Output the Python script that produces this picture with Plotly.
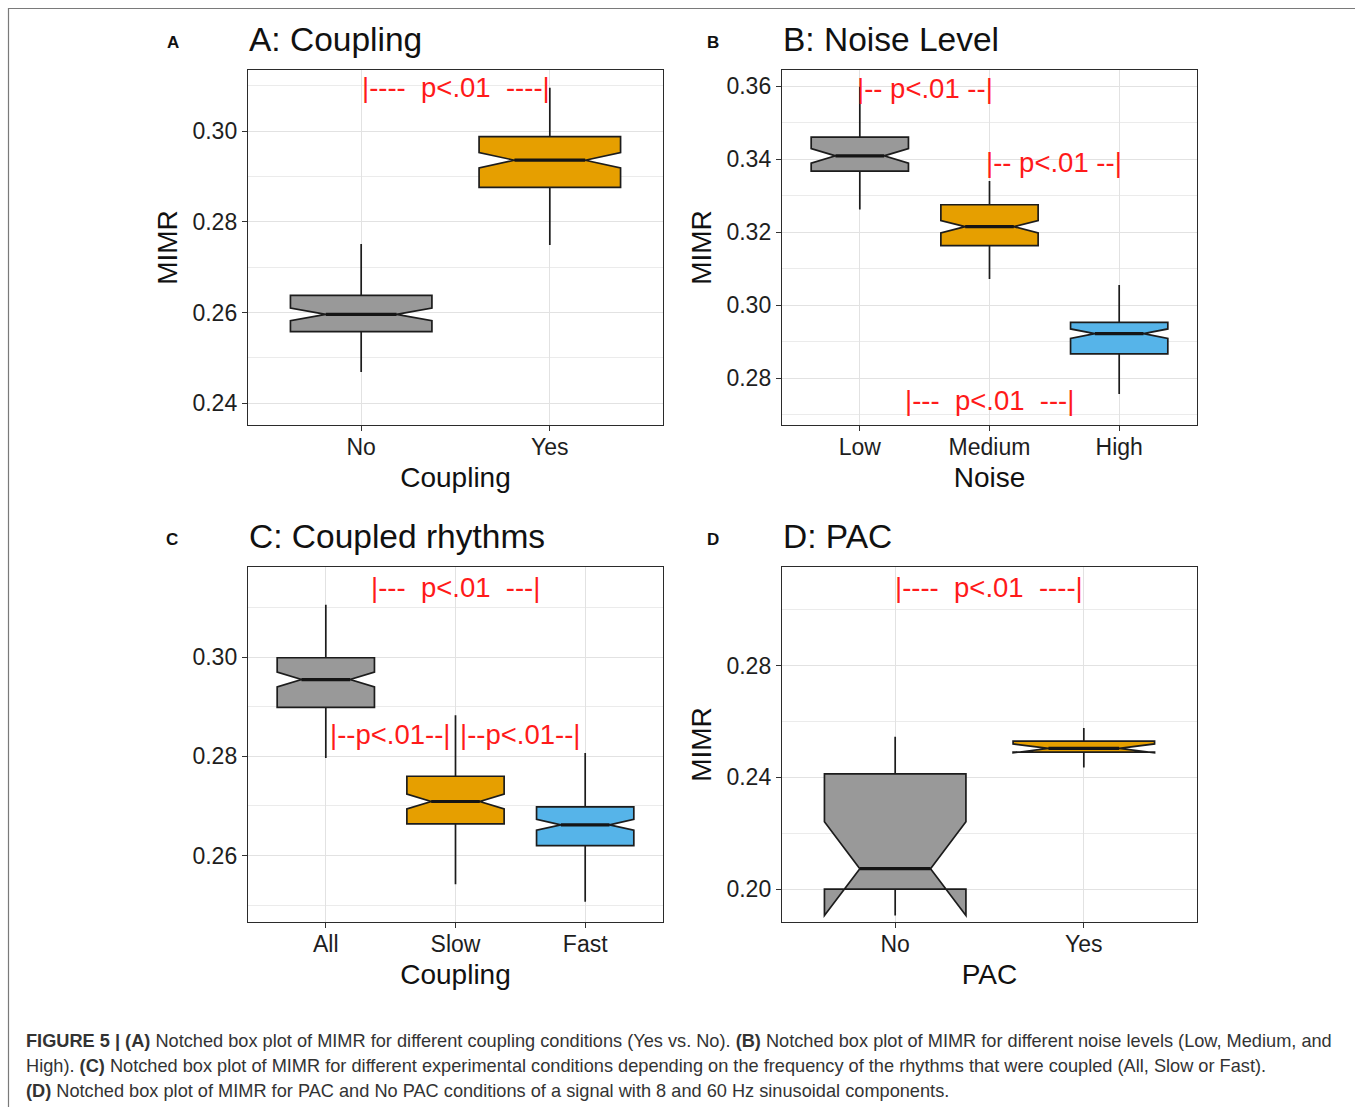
import plotly.graph_objects as go

# ---------------- data: notched box summaries (MIMR) ----------------
# Panel A: coupling present or not
a_cats = ["No", "Yes"]
a_lower = [0.2469, 0.2749]
a_q1 = [0.2558, 0.2876]
a_median = [0.2596, 0.2936]
a_q3 = [0.2638, 0.2988]
a_upper = [0.2751, 0.3096]
a_notch = [0.0014, 0.0017]

# Panel B: noise level
b_cats = ["Low", "Medium", "High"]
b_lower = [0.3262, 0.3072, 0.2757]
b_q1 = [0.3367, 0.3163, 0.2867]
b_median = [0.3409, 0.3215, 0.2922]
b_q3 = [0.3460, 0.3275, 0.2953]
b_upper = [0.3598, 0.3340, 0.3055]
b_notch = [0.0020, 0.0017, 0.0013]

# Panel C: which rhythms were coupled
c_cats = ["All", "Slow", "Fast"]
c_lower = [0.2797, 0.2542, 0.2507]
c_q1 = [0.2899, 0.2664, 0.2620]
c_median = [0.2955, 0.2709, 0.2662]
c_q3 = [0.2999, 0.2760, 0.2698]
c_upper = [0.3106, 0.2883, 0.2807]
c_notch = [0.0015, 0.0015, 0.0011]

# Panel D: PAC vs no PAC
d_cats = ["No", "Yes"]
d_lower = [0.1950, 0.2436]
d_q1 = [0.2000, 0.2491]
d_median = [0.2073, 0.2504]
d_q3 = [0.2413, 0.2530]
d_upper = [0.2546, 0.2577]
d_notch = [0.0168, 0.0016]

# significance brackets: (label, x centre in category units, y)
a_sig = [("|----\u00a0\u00a0p<.01\u00a0\u00a0----|", 1.5, 0.3097)]
b_sig = [("|--\u00a0p<.01\u00a0--|", 1.5, 0.3592),
         ("|--\u00a0p<.01\u00a0--|", 2.5, 0.3391),
         ("|---\u00a0\u00a0p<.01\u00a0\u00a0---|", 2.0, 0.2739)]
c_sig = [("|---\u00a0\u00a0p<.01\u00a0\u00a0---|", 2.0, 0.3141),
         ("|--p<.01--|", 1.5, 0.2845),
         ("|--p<.01--|", 2.5, 0.2845)]
d_sig = [("|----\u00a0\u00a0p<.01\u00a0\u00a0----|", 1.5, 0.3081)]

FILLS = ["#999999", "#E69F00", "#56B4E9"]
FONT = "Liberation Sans, Arial, sans-serif"
W, H = 1355, 1107
BOX_W = 0.75
NOTCH_DEPTH = 0.25   # each notch cuts a quarter of the box width -> waist is half the box

fig = go.Figure()

panels = [
    dict(key="", title="A: Coupling", letter="A", lx=173, cats=a_cats, lo=a_lower, q1=a_q1,
         med=a_median, q3=a_q3, hi=a_upper, ns=a_notch, sig=a_sig,
         yr=[0.2352, 0.3135], dt=0.02, xt="Coupling", yt="MIMR",
         px=(248, 663), py=(70, 425)),
    dict(key="2", title="B: Noise Level", letter="B", lx=713, cats=b_cats, lo=b_lower, q1=b_q1,
         med=b_median, q3=b_q3, hi=b_upper, ns=b_notch, sig=b_sig,
         yr=[0.2672, 0.3644], dt=0.02, xt="Noise", yt="MIMR",
         px=(782, 1197), py=(70, 425)),
    dict(key="3", title="C: Coupled rhythms", letter="C", lx=172, cats=c_cats, lo=c_lower, q1=c_q1,
         med=c_median, q3=c_q3, hi=c_upper, ns=c_notch, sig=c_sig,
         yr=[0.2466, 0.3182], dt=0.02, xt="Coupling", yt="",
         px=(248, 663), py=(567, 922)),
    dict(key="4", title="D: PAC", letter="D", lx=713, cats=d_cats, lo=d_lower, q1=d_q1,
         med=d_median, q3=d_q3, hi=d_upper, ns=d_notch, sig=d_sig,
         yr=[0.1882, 0.3154], dt=0.04, xt="PAC", yt="MIMR",
         px=(782, 1197), py=(567, 922)),
]

annotations = []
for p in panels:
    xa, ya = "x" + p["key"], "y" + p["key"]
    n = len(p["cats"])
    for i in range(n):
        pos = i + 1
        fig.add_trace(go.Box(
            x=[pos], q1=[p["q1"][i]], median=[p["med"][i]], q3=[p["q3"][i]],
            lowerfence=[p["lo"][i]], upperfence=[p["hi"][i]], notchspan=[p["ns"][i]],
            notched=True, notchwidth=NOTCH_DEPTH, width=BOX_W, whiskerwidth=0,
            boxpoints=False, fillcolor=FILLS[i],
            line=dict(color="#1c1c1c", width=1.7),
            xaxis=xa, yaxis=ya, showlegend=False, hoverinfo="skip"))
        # heavier median bar, as wide as the notch waist
        half = BOX_W / 2 * (1 - 2 * NOTCH_DEPTH)
        fig.add_trace(go.Scatter(
            x=[pos - half, pos + half], y=[p["med"][i], p["med"][i]],
            mode="lines", line=dict(color="#151515", width=3.2),
            xaxis=xa, yaxis=ya, showlegend=False, hoverinfo="skip"))

    x0, x1 = p["px"][0] / W, p["px"][1] / W
    y0, y1 = 1 - p["py"][1] / H, 1 - p["py"][0] / H
    axis_common = dict(showline=True, mirror=True, linecolor="#2b2b2b", linewidth=1.4,
                       ticks="outside", ticklen=5, tickcolor="#333333", tickwidth=1.2,
                       zeroline=False, showgrid=True, gridcolor="#e2e2e2", gridwidth=1.1,
                       tickfont=dict(family=FONT, size=23, color="#1e1e1e"))
    fig.update_layout(**{
        "xaxis" + p["key"]: dict(
            domain=[x0, x1], anchor=ya, range=[0.4, n + 0.6],
            tickmode="array", tickvals=list(range(1, n + 1)), ticktext=p["cats"],
            ticklabelstandoff=-4,
            title=dict(text=p["xt"], font=dict(family=FONT, size=28, color="#111111"),
                       standoff=8),
            **axis_common),
        "yaxis" + p["key"]: dict(
            domain=[y0, y1], anchor=xa, range=p["yr"], tick0=0, dtick=p["dt"],
            tickformat=".2f",
            minor=dict(tick0=0, dtick=p["dt"] / 2, showgrid=True, gridcolor="#ebebeb",
                       gridwidth=0.8, ticks=""),
            title=dict(text=p["yt"], font=dict(family=FONT, size=28, color="#111111"),
                       standoff=6),
            **axis_common),
    })

    for label, xc, yv in p["sig"]:
        annotations.append(dict(
            x=xc, y=yv, xref=xa, yref=ya, text=label, showarrow=False,
            xanchor="center", yanchor="middle",
            font=dict(family=FONT, size=27.5, color="#ff1a1a")))

    annotations.append(dict(
        x=(p["px"][0] - 1) / W, y=y1 + 31 / H, xref="paper", yref="paper", text=p["title"],
        showarrow=False, xanchor="left", yanchor="middle",
        font=dict(family=FONT, size=33.5, color="#111111")))
    annotations.append(dict(
        x=p["lx"] / W, y=y1 + 28 / H, xref="paper", yref="paper",
        text="<b>" + p["letter"] + "</b>", showarrow=False,
        xanchor="center", yanchor="middle",
        font=dict(family=FONT, size=17, color="#111111")))

# figure caption
caption = [
    "<b>FIGURE 5 | (A)</b> Notched box plot of MIMR for different coupling conditions (Yes vs. No). "
    "<b>(B)</b> Notched box plot of MIMR for different noise levels (Low, Medium, and",
    "High). <b>(C)</b> Notched box plot of MIMR for different experimental conditions depending "
    "on the frequency of the rhythms that were coupled (All, Slow or Fast).",
    "<b>(D)</b> Notched box plot of MIMR for PAC and No PAC conditions of a signal with 8 and "
    "60 Hz sinusoidal components.",
]
for k, line in enumerate(caption):
    annotations.append(dict(
        x=24 / W, y=1 - (1041 + 25 * k) / H, xref="paper", yref="paper", text=line,
        showarrow=False, xanchor="left", yanchor="middle",
        font=dict(family=FONT, size=18.2, color="#333333")))

fig.update_layout(
    width=W, height=H, margin=dict(l=0, r=0, t=0, b=0),
    paper_bgcolor="white", plot_bgcolor="white", showlegend=False,
    annotations=annotations,
    shapes=[dict(type="rect", xref="paper", yref="paper",
                 x0=8.5 / W, x1=1.2, y0=-0.2, y1=1 - 8.5 / H,
                 line=dict(color="#7a7a7a", width=1.2), fillcolor="rgba(0,0,0,0)",
                 layer="below")],
)

fig.write_html("out.html")
